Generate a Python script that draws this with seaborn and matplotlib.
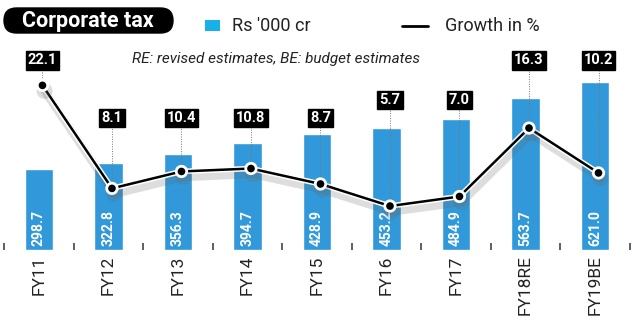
import numpy as np
import pandas as pd
import matplotlib
matplotlib.use("Agg")
import matplotlib.pyplot as plt
import matplotlib.patheffects as pe
from matplotlib.patches import FancyBboxPatch, Rectangle
import seaborn as sns

# ---- data ----
categories = ["FY11", "FY12", "FY13", "FY14", "FY15", "FY16", "FY17", "FY18RE", "FY19BE"]
tax_values = [298.7, 322.8, 356.3, 394.7, 428.9, 453.2, 484.9, 563.7, 621.0]
growth_pct = [22.1, 8.1, 10.4, 10.8, 8.7, 5.7, 7.0, 16.3, 10.2]
value_labels = ["298.7", "322.8", "356.3", "394.7", "428.9", "453.2", "484.9", "563.7", "621.0"]
growth_labels = ["22.1", "8.1", "10.4", "10.8", "8.7", "5.7", "7.0", "16.3", "10.2"]

title = "Corporate tax"
legend_bar = "Rs '000 cr"
legend_line = "Growth in %"
subtitle = "RE: revised estimates, BE: budget estimates"

# ---- style ----
sns.set_style("white")
FONT = ["Roboto", "DejaVu Sans"]
plt.rcParams["font.family"] = FONT

BAR_COLOR = "#3199DA"
LEG_COLOR = "#17B1E8"

W, H = 640, 321
fig = plt.figure(figsize=(W / 100, H / 100), dpi=100)
ax = fig.add_axes([0, 0, 1, 1])

df = pd.DataFrame({"cat": categories, "val": tax_values, "g": growth_pct})
n = len(categories)

sns.barplot(data=df, x="cat", y="val", color=BAR_COLOR, width=0.41,
            saturation=1, ax=ax, order=categories)
ax.set_xlim(-0.561, 8.647)
ax.set_ylim(-263, 926)
ax.axis("off")

# separator ticks between categories
ax.vlines(np.arange(n + 1) - 0.5, 0, 25, color="#444444", lw=1.2)

# bar value labels (rotated, inside bars)
for i, lab in enumerate(value_labels):
    ax.text(i, 16, lab, rotation=90, ha="center", va="bottom", color="white",
            fontsize=10, fontweight="bold")

# category labels
for i, lab in enumerate(categories):
    ax.text(i, -20, lab, rotation=90, ha="center", va="top", color="#222222",
            fontsize=12.5)

# growth line on twin axis
ax2 = ax.twinx()
ax2.set_position([0, 0, 1, 1])
ax2.set_ylim(-9.92, 33.7)
xs = np.arange(n) + 0.05
sns.lineplot(x=xs, y=growth_pct, ax=ax2, color="black", lw=1.8,
             marker="o", markersize=5.5, markeredgewidth=0, legend=False,
             path_effects=[pe.SimpleLineShadow(offset=(1.5, -4), shadow_color="#666666",
                                               alpha=0.22, linewidth=6),
                           pe.Stroke(linewidth=4, foreground="white"),
                           pe.Normal()])
ax2.set_xlim(ax.get_xlim())
ax2.axis("off")

# growth labels in black boxes with dotted leaders
label_levels = [25.5, 17.7, 17.7, 17.7, 17.7, 20.1, 20.1, 25.5, 25.5]
for i, (lab, g) in enumerate(zip(growth_labels, growth_pct)):
    lv = label_levels[i]
    ax2.plot([xs[i], xs[i]], [g, lv], color="#777777", lw=0.7, ls=(0, (1, 1.5)),
             zorder=1)
    ax2.text(xs[i], lv, lab, ha="center", va="center", color="white",
             fontsize=10.5, fontweight="bold", zorder=5,
             bbox=dict(boxstyle="square,pad=0.15", fc="black", ec="black"))

# ---- header (overlay axes in pixel units) ----
hx = fig.add_axes([0, 0, 1, 1], zorder=10)
hx.set_xlim(0, W)
hx.set_ylim(H, 0)
hx.axis("off")
hx.patch.set_alpha(0)

hx.add_patch(FancyBboxPatch((4, 8), 169, 25,
                            boxstyle="round,pad=0,rounding_size=12.5",
                            fc="black", ec="black"))
hx.text(88, 21, title, ha="center", va="center", color="white",
        fontsize=15.5, fontweight="bold")

hx.add_patch(Rectangle((205, 20), 15, 11, fc=LEG_COLOR, ec="none"))
hx.text(232, 26, legend_bar, ha="left", va="center", color="#222222", fontsize=13)
hx.plot([402, 428], [26, 26], color="black", lw=2)
hx.text(445, 26, legend_line, ha="left", va="center", color="#222222", fontsize=13)

hx.text(276, 59, subtitle, ha="center", va="center", color="#222222",
        fontsize=11, style="italic")

fig.savefig("out.png", dpi=100)
